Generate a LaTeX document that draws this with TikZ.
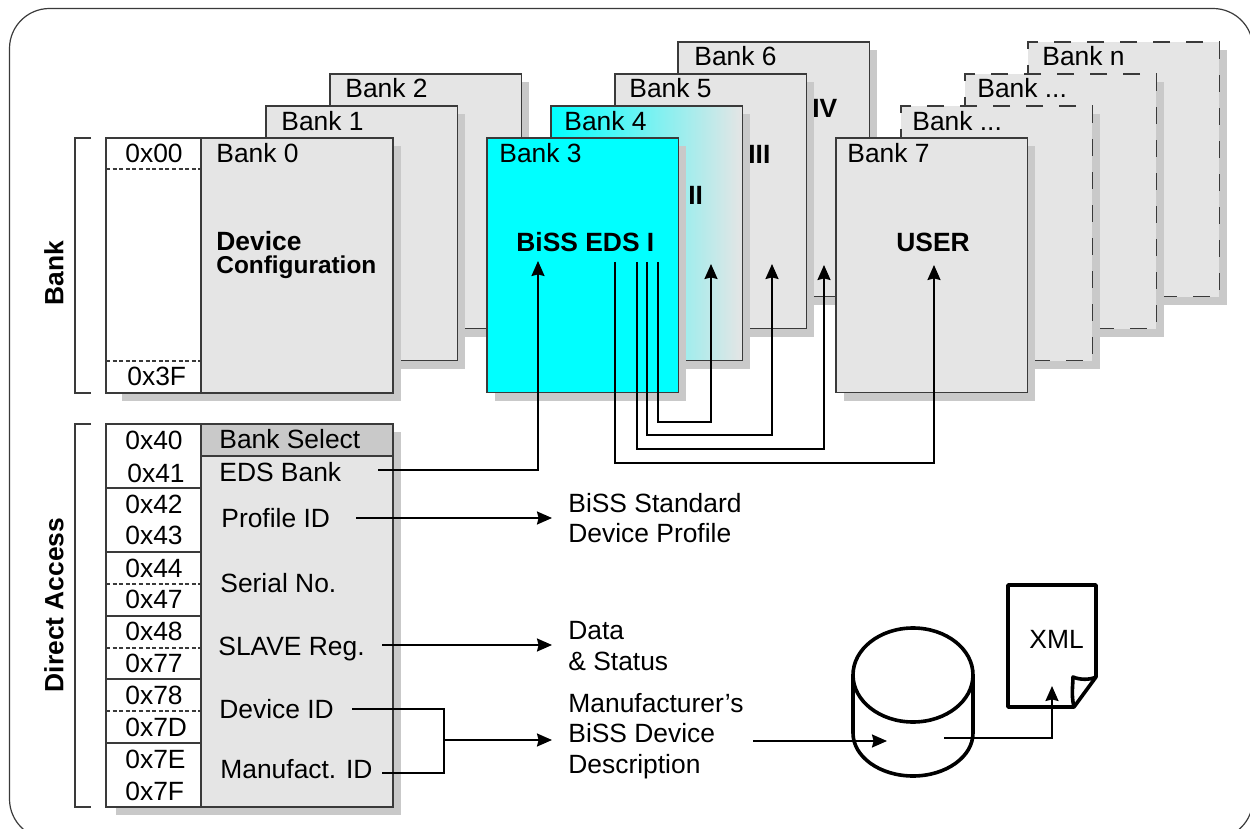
\documentclass[tikz,border=0pt]{standalone}
\usepackage{xcolor}
\usepackage{fontspec}
\setmainfont{Liberation Sans}
\usepackage{tikz}
\usetikzlibrary{arrows.meta,shadows,calc}

\definecolor{bankgray}{HTML}{E5E5E5}
\definecolor{shadowgray}{HTML}{C9C9C9}
\definecolor{linegray}{HTML}{3A3A3A}
\definecolor{edscyan}{RGB}{0,255,255}

\begin{document}
\begin{tikzpicture}[
  x=0.5pt,y=-0.5pt,
  every node/.style={font=\fontsize{13.2}{15.1}\selectfont},
  shadowed/.style={drop shadow={shadow xshift=#1,shadow yshift=-4pt,fill=shadowgray,opacity=1}},
  bank/.style={rectangle,draw=linegray,line width=0.6pt,fill=bankgray,anchor=north west,inner sep=0pt,outer sep=0pt,minimum width=95.6pt,minimum height=127.3pt,shadowed=4pt},
  spare/.style={bank,dash pattern=on 8.5pt off 8pt},
  addrcell/.style={rectangle,draw=linegray,line width=0.6pt,fill=white,anchor=north west,inner sep=0pt,outer sep=0pt,minimum width=47.5pt},
  body/.style={rectangle,draw=linegray,line width=0.6pt,fill=bankgray,anchor=north west,inner sep=0pt,outer sep=0pt,minimum width=96pt},
  txt/.style={anchor=base west,inner sep=0pt},
  desc/.style={anchor=west,align=left,inner sep=0pt},
  head/.style={txt,font=\fontsize{13.2}{15.1}\selectfont\bfseries},
  side/.style={rotate=90,inner sep=0pt,font=\fontsize{13.2}{15.1}\selectfont\bfseries},
  conn/.style={line width=1pt,-{Stealth[length=7.5pt,width=6.5pt,inset=0.8pt]}},
  wire/.style={line width=1pt},
  rowline/.style={draw=linegray,line width=0.6pt},
  dashline/.style={rowline,dash pattern=on 2pt off 1.3pt},
  thickline/.style={line width=1.8pt,line join=round},
]

\clip (0,0) rectangle (1250,829);

% Frame
\draw[line width=0.6pt,draw=linegray] (9.5,8.5) [rounded corners=20pt] -- (1253,8.5) -- (1253,839) -- (9.5,839) -- cycle;

% Brackets
\draw[rowline] (91,138) -- (75,138) -- (75,393) -- (91,393);
\draw[rowline] (91,424) -- (75,424) -- (75,807) -- (91,807);
\node[side] (banklabel) at (54,273) {Bank};
\node[side] (directlabel) at (54,605) {Direct Access};

% Spare banks
\node[spare] (bankn) at (1028,42) {};
\node[spare] (bankc) at (965,74) {};
\node[spare] (bankb) at (901,106) {};
\node[txt] (banknt) at (1042,66) {Bank n};
\node[txt] (bankct) at (977,98) {Bank ...};
\node[txt] (bankbt) at (912,131) {Bank ...};

% EDS banks
\node[bank] (bank6) at (678,42) {};
\node[bank] (bank5) at (615,74) {};
\node[bank,left color=edscyan,right color=bankgray] (bank4) at (551,106) {};
\node[txt] (bank6t) at (694,66) {Bank 6};
\node[txt] (bank5t) at (629,98) {Bank 5};
\node[txt] (bank4t) at (564,131) {Bank 4};
\node[head] (edsfour) at (812,118) {IV};
\node[head] (edsthree) at (748,164) {III};
\node[head] (edstwo) at (688,205) {II};

% Front banks
\node[bank] (bank2) at (330,74) {};
\node[bank] (bank1) at (266,106) {};
\node[txt] (bank2t) at (345,98) {Bank 2};
\node[txt] (bank1t) at (281,131) {Bank 1};
\node[bank,fill=edscyan] (bank3) at (487,138) {};
\node[txt] (bank3t) at (499,163) {Bank 3};
\node[head] (edsone) at (516,252) {BiSS EDS I};
\node[bank] (bank7) at (836,138) {};
\node[txt] (bank7t) at (847,163) {Bank 7};
\node[head] (usert) at (896,252) {USER};

% Bank 0
\node[addrcell,minimum height=127.5pt,shadowed=8pt] (bank0addr) at (106,138) {};
\node[body,minimum height=127.5pt,shadowed=4pt] (bank0) at (201,138) {};
\draw[dashline] (106,169) -- (201,169);
\draw[dashline] (106,361) -- (201,361);
\node[txt] (addr00) at (125,163) {0x00};
\node[txt] (addr3f) at (127,386) {0x3F};
\node[txt] (bank0t) at (216,163) {Bank 0};
\node[head] (devicet) at (216,251) {Device};
\node[head,font=\fontsize{12.2}{14}\selectfont\bfseries] (configt) at (216,274) {Configuration};

% Direct access
\node[addrcell,minimum height=191.5pt,shadowed=5pt] (accaddr) at (106,424) {};
\node[body,minimum height=191.5pt,shadowed=4pt] (accbody) at (201,424) {};
\node[body,fill=shadowgray,minimum height=16pt] (selrow) at (201,424) {};
\draw[rowline] (106,488) -- (201,488);
\draw[rowline] (106,552) -- (201,552);
\draw[rowline] (106,616) -- (201,616);
\draw[rowline] (106,679) -- (201,679);
\draw[rowline] (106,743) -- (201,743);
\draw[dashline] (106,584) -- (201,584);
\draw[dashline] (106,648) -- (201,648);
\draw[dashline] (106,711) -- (201,711);
\node[txt] (addr40) at (125,450) {0x40};
\node[txt] (addr41) at (127,482) {0x41};
\node[txt] (addr42) at (125,513) {0x42};
\node[txt] (addr43) at (125,545) {0x43};
\node[txt] (addr44) at (125,577) {0x44};
\node[txt] (addr47) at (125,608) {0x47};
\node[txt] (addr48) at (125,640) {0x48};
\node[txt] (addr77) at (125,672) {0x77};
\node[txt] (addr78) at (125,704) {0x78};
\node[txt] (addr7d) at (125,736) {0x7D};
\node[txt] (addr7e) at (125,768) {0x7E};
\node[txt] (addr7f) at (125,800) {0x7F};
\node[txt] (selt) at (219,449) {Bank Select};
\node[txt] (edsbank) at (219,481) {EDS Bank};
\node[txt] (profile) at (221,527) {Profile ID};
\node[txt] (serial) at (220,592) {Serial No.};
\node[txt] (slave) at (218,655) {SLAVE Reg.};
\node[txt] (deviceid) at (219,718) {Device ID};
\node[txt] (manuf) at (220,778) {Manufact. ID};

% Descriptions
\node[desc] (profdesc) at (568,518) {BiSS Standard\\Device Profile};
\node[desc] (datadesc) at (568,646) {Data\\\& Status};
\node[desc] (manudesc) at (568,736) {Manufacturer's\\BiSS Device\\Description};

% Database and file
\node[txt] (xmlt) at (1029,648) {XML};
\coordinate (dbleft) at (853,675);
\coordinate (dbright) at (973,675);
\draw[thickline] (913,675) ellipse [x radius=60,y radius=47];
\draw[thickline] (dbleft) -- (853,733) arc [start angle=180,end angle=0,x radius=60,y radius=43] -- (dbright);
\draw[thickline] (1074,707) -- (1008,707) -- (1008,585) -- (1096,585) -- (1096,677) -- cycle;
\draw[thickline] (1074,707) .. controls (1071,695) and (1073,685) .. (1073,677) .. controls (1080,680) and (1090,680) .. (1096,677);

% Bank switching
\coordinate (edsout) at (378,470);
\coordinate (edstip) at (538,261);
\coordinate (line2) at (658,262);
\coordinate (line3) at (647,262);
\coordinate (line4) at (637,262);
\coordinate (line7) at (615,262);
\coordinate (tip2) at (711,264);
\coordinate (tip3) at (772,264);
\coordinate (tip4) at (824,265);
\coordinate (tip7) at (934,265);
\draw[conn] (edsout) -| (edstip);
\draw[conn] (line2) -- ++(0,160) -| (tip2);
\draw[conn] (line3) -- ++(0,173) -| (tip3);
\draw[conn] (line4) -- ++(0,187) -| (tip4);
\draw[conn] (line7) -- ++(0,201) -| (tip7);

% Outputs
\coordinate (profout) at (356,518);
\coordinate (slaveout) at (382,645);
\coordinate (devout) at (352,709);
\coordinate (manout) at (382,773);
\coordinate (merge) at (444,740);
\coordinate (dbin) at (887,741);
\coordinate (dbtail) at (753,741);
\coordinate (dbout) at (944,738);
\coordinate (xmltip) at (1052,686);
\draw[conn,shorten >=8pt] (profout) -- (profout -| profdesc.west);
\draw[conn,shorten >=8pt] (slaveout) -- (slaveout -| datadesc.west);
\draw[wire] (devout) -| (merge) |- (manout);
\draw[conn,shorten >=8pt] (merge) -- (merge -| manudesc.west);
\draw[conn] (dbtail) -- (dbin);
\draw[conn] (dbout) -| (xmltip);

\end{tikzpicture}
\end{document}
